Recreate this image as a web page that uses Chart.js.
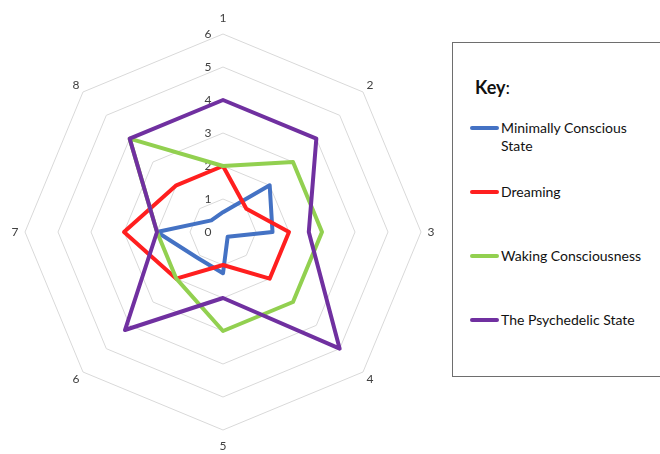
<!DOCTYPE html>
<html>
<head>
<meta charset="utf-8">
<script src="https://cdn.jsdelivr.net/npm/chart.js@4.4.1/dist/chart.umd.min.js"></script>
<style>
  html, body { margin: 0; padding: 0; background: #fff; }
  #wrap { position: relative; width: 660px; height: 454px; overflow: hidden; background: #fff; }
  #cv { position: absolute; left: 0; top: 0; }
  #key { position: absolute; left: 452px; top: 42px; width: 220px; height: 335px;
         border: 1px solid #6e6e6e; box-sizing: border-box; font-family: Lato, "Open Sans", sans-serif; color: #111; }
  #key .title { position: absolute; left: 22px; top: 33px; font-size: 18px; line-height: 22px; }
  #key .title b { font-weight: 700; }
  .item { position: absolute; left: 0; width: 200px; }
  .item .sw { position: absolute; left: 17px; width: 29px; height: 4px; border-radius: 2px; }
  .item .tx { position: absolute; left: 48px; width: 150px; font-size: 14px; line-height: 18px; }
</style>
</head>
<body>
<div id="wrap">
  <canvas id="cv" width="450" height="454"></canvas>
  <div id="key"><div class="title"><b>Key</b>:</div></div>
</div>
<script>
// ---- data ----
const categories = ['1', '2', '3', '4', '5', '6', '7', '8'];
const tickValues = [0, 1, 2, 3, 4, 5, 6];
const seriesNames = ['Minimally Conscious State', 'Dreaming', 'Waking Consciousness', 'The Psychedelic State'];
const minimallyConscious = [0.6, 2, 1.5, 0.2, 1.25, 1.1, 2, 0.5];
const dreaming = [2, 1, 2, 2, 1, 2, 3, 2];
const wakingConsciousness = [2, 3, 3, 3, 3, 2, 2, 4];
const psychedelicState = [4, 4, 2.6, 5, 2, 4.2, 2, 4];
const seriesColors = ['#4472C4', '#FF1F1F', '#92D050', '#7030A0'];

const seriesValues = [minimallyConscious, dreaming, wakingConsciousness, psychedelicState];

const labelPlugin = {
  id: 'excelLabels',
  beforeDatasetsDraw(chart) {
    const s = chart.scales.r, ctx = chart.ctx;
    ctx.save();
    ctx.font = '12px Lato, "Open Sans", sans-serif';
    ctx.fillStyle = '#404040';
    ctx.textAlign = 'right';
    ctx.textBaseline = 'middle';
    tickValues.forEach(v => {
      const p = s.getPointPositionForValue(0, v);
      ctx.fillText(String(v), p.x - 11.5, p.y);
    });
    ctx.textAlign = 'center';
    categories.forEach((lab, i) => {
      const extra = (i % 4 === 0) ? 16 : 10;
      const p = s.getPointPosition(i, s.drawingArea + extra);
      ctx.fillText(lab, p.x, p.y);
    });
    ctx.restore();
  }
};

const chart = new Chart(document.getElementById('cv'), {
  type: 'radar',
  data: {
    labels: categories,
    datasets: seriesNames.map((name, i) => ({
      label: name,
      data: seriesValues[i],
      borderColor: seriesColors[i],
      backgroundColor: seriesColors[i],
      borderWidth: 4,
      borderJoinStyle: 'round',
      borderCapStyle: 'round',
      pointRadius: 0,
      pointHoverRadius: 0,
      fill: false,
      tension: 0,
      order: seriesNames.length - 1 - i
    }))
  },
  options: {
    responsive: false,
    animation: false,
    layout: { padding: { left: 25, right: 28, top: 34, bottom: 23 } },
    plugins: { legend: { display: false }, tooltip: { enabled: false }, title: { display: false } },
    scales: {
      r: {
        min: 0,
        max: 6,
        ticks: { display: false, stepSize: 1 },
        grid: { display: true, color: '#d9d9d9', lineWidth: 1, circular: false },
        angleLines: { display: false },
        pointLabels: { display: false }
      }
    }
  },
  plugins: [labelPlugin]
});

// legend built from the chart's datasets
const key = document.getElementById('key');
chart.data.datasets.forEach((ds, i) => {
  const item = document.createElement('div');
  item.className = 'item';
  const centerY = 85 + 64 * i; // relative to box top
  item.style.top = (centerY - 9) + 'px';
  const sw = document.createElement('div');
  sw.className = 'sw';
  sw.style.background = ds.borderColor;
  sw.style.top = '7px';
  const tx = document.createElement('div');
  tx.className = 'tx';
  tx.textContent = ds.label;
  item.appendChild(sw);
  item.appendChild(tx);
  key.appendChild(item);
});
</script>
</body>
</html>
